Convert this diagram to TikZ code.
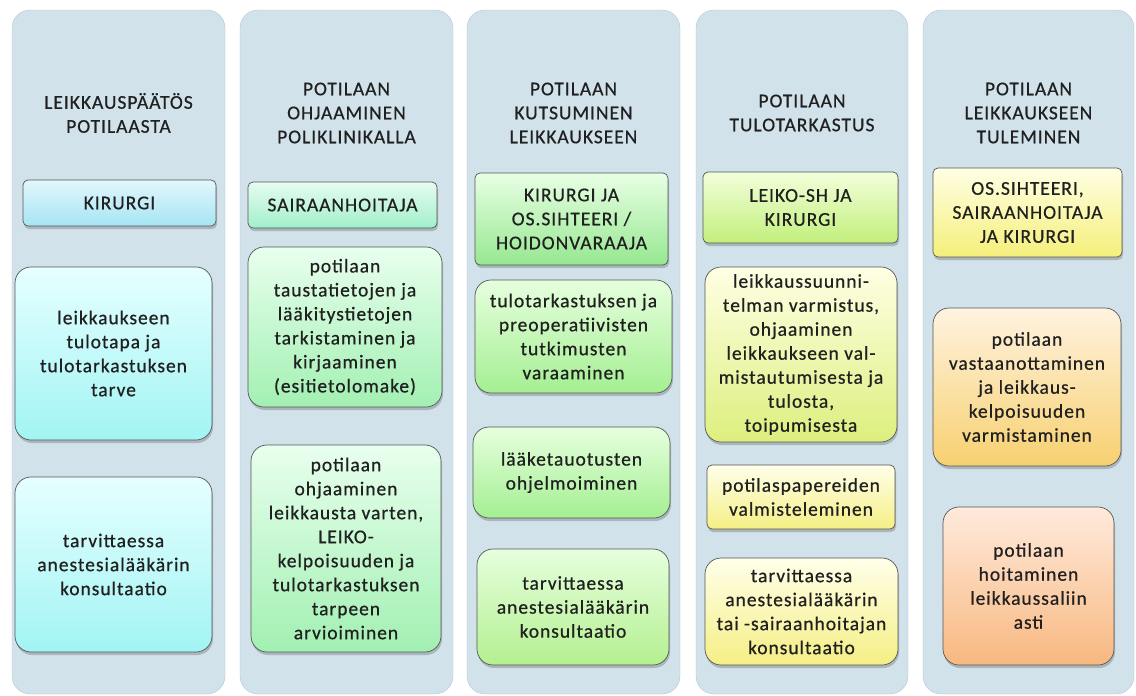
\documentclass[tikz,border=0pt]{standalone}
\usepackage{fontspec}
\setmainfont{Carlito}[LetterSpace=5, FakeBold=0.6]
\usetikzlibrary{shadows}

\definecolor{panelc}{HTML}{D1E2EA}
\definecolor{boxline}{HTML}{555555}
\definecolor{txt}{HTML}{202020}
% gradient end colours: a = top, b = bottom
\definecolor{c1a}{HTML}{E2F7FC}\definecolor{c1b}{HTML}{A6E4F4}
\definecolor{t1a}{HTML}{E6FFFF}\definecolor{t1b}{HTML}{A2F4F4}
\definecolor{c2a}{HTML}{E6FCF0}\definecolor{c2b}{HTML}{A2EFCB}
\definecolor{t2a}{HTML}{E8FFEE}\definecolor{t2b}{HTML}{A2F0B2}
\definecolor{c3a}{HTML}{E8FFE4}\definecolor{c3b}{HTML}{96E890}
\definecolor{t3a}{HTML}{E6FFDE}\definecolor{t3b}{HTML}{A4EF92}
\definecolor{t3c}{HTML}{B4F090}
\definecolor{c4a}{HTML}{F2FFDA}\definecolor{c4b}{HTML}{C2EF7C}
\definecolor{t4a}{HTML}{FFFFE4}\definecolor{t4b}{HTML}{DDEF7E}
\definecolor{t4c}{HTML}{FFFFEA}\definecolor{t4d}{HTML}{F5EF84}
\definecolor{c5a}{HTML}{FFFFE4}\definecolor{c5b}{HTML}{F5EF7A}
\definecolor{t5a}{HTML}{FFF3E0}\definecolor{t5b}{HTML}{F7D070}
\definecolor{t5c}{HTML}{FFEADC}\definecolor{t5d}{HTML}{F8B880}

\tikzset{
  panel/.style={fill=panelc, draw=panelc!88!black, line width=0.4pt, rounded corners=18pt},
  head/.style={align=center, text=txt, inner sep=0pt},
  card/.style={draw=boxline, line width=0.7pt, align=center, text=txt, inner sep=0pt,
    drop shadow={shadow xshift=1pt, shadow yshift=-3pt, opacity=0.35, fill=black!60}},
  role/.style={card, rounded corners=5pt},
  task/.style={card, rounded corners=16pt},
  sz/.style 2 args={minimum width=#1pt, minimum height=#2pt},
  grad/.style 2 args={top color=#1, bottom color=#2},
}

\begin{document}
\begin{tikzpicture}[x=1pt, y=-1pt, font={\fontsize{19.5}{24}\selectfont}]
\useasboundingbox (0,0) rectangle (1136,696);
\fill[white] (0,0) rectangle (1136,696);

% column panels
\draw[panel] (12,10) rectangle (225,694);
\draw[panel] (240,10) rectangle (453,694);
\draw[panel] (467,10) rectangle (680,694);
\draw[panel] (696,10) rectangle (908,694);
\draw[panel] (923,10) rectangle (1134,694);

% column headings
\node[head] (h1) at (118.5,113) {LEIKKAUSPÄÄTÖS\\POTILAASTA};
\node[head] (h2) at (346.5,113) {POTILAAN\\OHJAAMINEN\\POLIKLINIKALLA};
\node[head] (h3) at (573.5,113) {POTILAAN\\KUTSUMINEN\\LEIKKAUKSEEN};
\node[head] (h4) at (802,113) {POTILAAN\\TULOTARKASTUS};
\node[head] (h5) at (1028.5,113) {POTILAAN\\LEIKKAUKSEEN\\TULEMINEN};

% column 1
\node[role, sz={193}{46}, grad={c1a}{c1b}] (r1) at (119.5,203) {KIRURGI};
\node[task, sz={197}{173}, grad={t1a}{t1b}] (b11) at (113.5,353.5)
  {leikkaukseen\\tulotapa ja\\tulotarkastuksen\\tarve};
\node[task, sz={197}{175}, grad={t1a}{t1b}] (b12) at (113.5,564.5)
  {tarvittaessa\\anestesialääkärin\\konsultaatio};

% column 2
\node[role, sz={189}{46}, grad={c2a}{c2b}] (r2) at (342.5,205) {SAIRAANHOITAJA};
\node[task, sz={194}{160}, grad={t2a}{t2b}] (b21) at (345,327)
  {potilaan\\taustatietojen ja\\lääkitystietojen\\tarkistaminen ja\\kirjaaminen\\(esitietolomake)};
\node[task, sz={190}{207}, grad={t2a}{t2b}] (b22) at (346,548.5)
  {potilaan\\ohjaaminen\\leikkausta varten,\\LEIKO-\\kelpoisuuden ja\\tulotarkastuksen\\tarpeen\\arvioiminen};

% column 3
\node[role, sz={193}{92}, grad={c3a}{c3b}] (r3) at (571.5,219)
  {KIRURGI JA\\OS.SIHTEERI /\\HOIDONVARAAJA};
\node[task, sz={197}{113}, grad={t3a}{t3b}] (b31) at (573.5,336.5)
  {tulotarkastuksen ja\\preoperatiivisten\\tutkimusten\\varaaminen};
\node[task, sz={197}{91}, grad={t3a}{t3b}] (b32) at (571.5,472.5)
  {lääketauotusten\\ohjelmoiminen};
\node[task, sz={192}{116}, grad={t3a}{t3c}] (b33) at (573,607)
  {tarvittaessa\\anestesialääkärin\\konsultaatio};

% column 4
\node[role, sz={195}{71}, grad={c4a}{c4b}] (r4) at (800.5,207.5)
  {LEIKO-SH JA\\KIRURGI};
\node[task, sz={192}{175}, grad={t4a}{t4b}] (b41) at (801,354.5)
  {leikkaussuunni-\\telman varmistus,\\ohjaaminen\\leikkaukseen val-\\mistautumisesta ja\\tulosta,\\toipumisesta};
\node[role, sz={188}{64}, grad={t4c}{t4d}] (b42) at (801,497)
  {potilaspapereiden\\valmisteleminen};
\node[task, sz={193}{107}, grad={t4c}{t4d}] (b43) at (801.5,611.5)
  {tarvittaessa\\anestesialääkärin\\tai -sairaanhoitajan\\konsultaatio};

% column 5
\node[role, sz={189}{89}, grad={c5a}{c5b}] (r5) at (1027.5,212.5)
  {OS.SIHTEERI,\\SAIRAANHOITAJA\\JA KIRURGI};
\node[task, sz={188}{158}, grad={t5a}{t5b}] (b51) at (1027,387)
  {potilaan\\vastaanottaminen\\ja leikkaus-\\kelpoisuuden\\varmistaminen};
\node[task, sz={171}{158}, grad={t5c}{t5d}] (b52) at (1028.5,586)
  {potilaan\\hoitaminen\\leikkaussaliin\\asti};

\end{tikzpicture}
\end{document}
